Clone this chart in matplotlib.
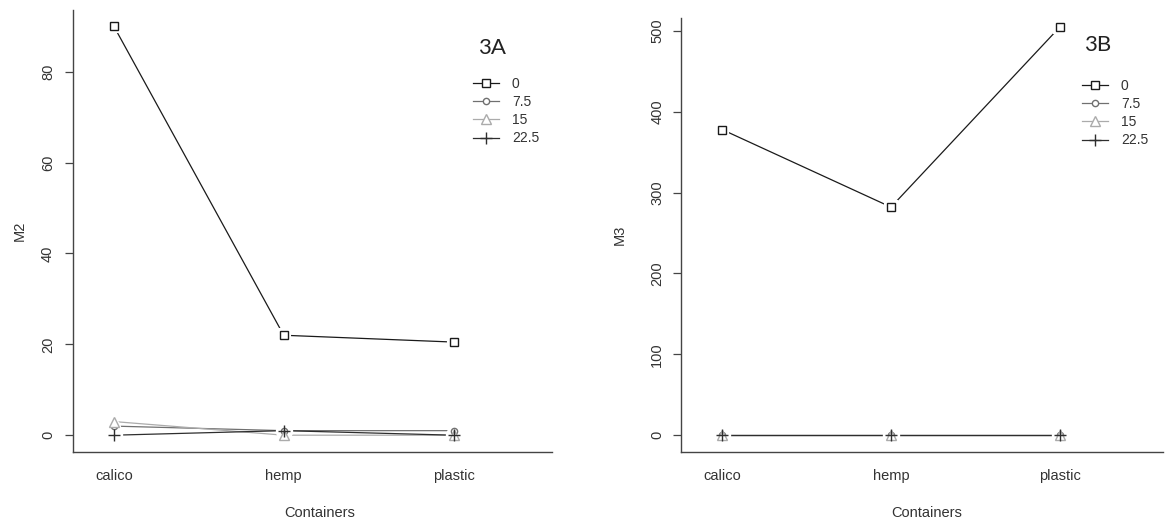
import matplotlib.pyplot as plt
import numpy as np

plt.rcParams['font.family'] = ['Liberation Sans', 'DejaVu Sans']

containers = ['calico', 'hemp', 'plastic']
levels = ['0', '7.5', '15', '22.5']

# M2 per container, one list per level
m2_0 = [90.0, 22.0, 20.5]
m2_75 = [2.0, 1.0, 1.0]
m2_15 = [3.0, 0.0, 0.0]
m2_225 = [0.0, 1.0, 0.0]

# M3 per container
m3_0 = [378.0, 282.0, 505.0]
m3_75 = [0.0, 0.0, 0.0]
m3_15 = [0.0, 0.0, 0.0]
m3_225 = [0.0, 0.0, 0.0]

colors = ['#1a1a1a', '#707070', '#ababab', '#2e2e2e']
markers = ['s', 'o', '^', '+']
msizes = [5.5, 4.5, 6.5, 8]

W, H = 1168, 524
fig = plt.figure(figsize=(W / 100, H / 100), dpi=100)
fig.patch.set_facecolor('white')


def px_axes(x0, x1, y0, y1):
    # axes placed by pixel edges of the reference
    return fig.add_axes([x0 / W, 1 - y1 / H, (x1 - x0) / W, (y1 - y0) / H])


def draw(ax, series, xlim, ylim, yticks, ylabel, tag, leg_xy, tag_xy,
         ylab_x, xlab_xy, ypad):
    x = np.arange(1, len(containers) + 1)
    handles = []
    for vals, c, m, ms, lab in zip(series, colors, markers, msizes, levels):
        ax.plot(x, vals, color=c, lw=0.9, zorder=2)
        halo = 'o' if m == '+' else m
        ax.plot(x, vals, ls='none', marker=halo, ms=ms + 3, mfc='white',
                mec='white', mew=1.5, zorder=3)
        ax.plot(x, vals, ls='none', marker=m, ms=ms, mfc='white', mec=c,
                mew=1.0, zorder=4)
        h, = ax.plot([], [], color=c, lw=0.9, marker=m, ms=ms, mfc='white',
                     mec=c, mew=1.0)
        handles.append(h)

    ax.set_xlim(*xlim)
    ax.set_ylim(*ylim)
    ax.set_xticks(x)
    ax.set_xticklabels(containers)
    ax.set_yticks(yticks)
    for s in ['top', 'right']:
        ax.spines[s].set_visible(False)
    for s in ['left', 'bottom']:
        ax.spines[s].set_color('#444444')
        ax.spines[s].set_linewidth(1.0)
    ax.tick_params(axis='x', length=0, pad=12, labelsize=10.5,
                   labelcolor='#333333')
    ax.tick_params(axis='y', length=6, width=0.9, color='#444444', pad=ypad,
                   labelsize=10.5, labelcolor='#333333', labelrotation=90)
    for t in ax.get_yticklabels():
        t.set_va('center')

    ax.set_ylabel(ylabel, fontsize=10.5, color='#333333')
    ax.yaxis.label.set_va('center')
    ax.yaxis.set_label_coords(ylab_x, 0.5)
    ax.set_xlabel('Containers', fontsize=10.5, color='#333333')
    ax.xaxis.label.set_va('center')
    ax.xaxis.set_label_coords(*xlab_xy)

    leg = ax.legend(handles, levels, loc='upper left',
                    bbox_to_anchor=(leg_xy[0] / W, 1 - leg_xy[1] / H),
                    bbox_transform=fig.transFigure, frameon=False,
                    fontsize=10, handlelength=1.9, handletextpad=0.9,
                    labelspacing=0.3, borderpad=0, borderaxespad=0)
    for t in leg.get_texts():
        t.set_color('#333333')
    fig.text(tag_xy[0] / W, 1 - tag_xy[1] / H, tag, family='Lato',
             fontsize=16, color='#222222', ha='center', va='center')


ax1 = px_axes(73, 552, 10, 452)
draw(ax1, [m2_0, m2_75, m2_15, m2_225], (0.759, 3.58), (-3.7, 93.6),
     [0, 20, 40, 60, 80], 'M2', '3A', (473, 77), (492, 48),
     -0.111, (0.516, -0.138), 7)

ax2 = px_axes(681, 1163, 18, 452)
draw(ax2, [m3_0, m3_75, m3_15, m3_225], (0.757, 3.61), (-21, 516),
     [0, 100, 200, 300, 400, 500], 'M3', '3B', (1082, 79), (1098, 45),
     -0.127, (0.510, -0.1406), 6)

fig.savefig('out.png', dpi=100)
